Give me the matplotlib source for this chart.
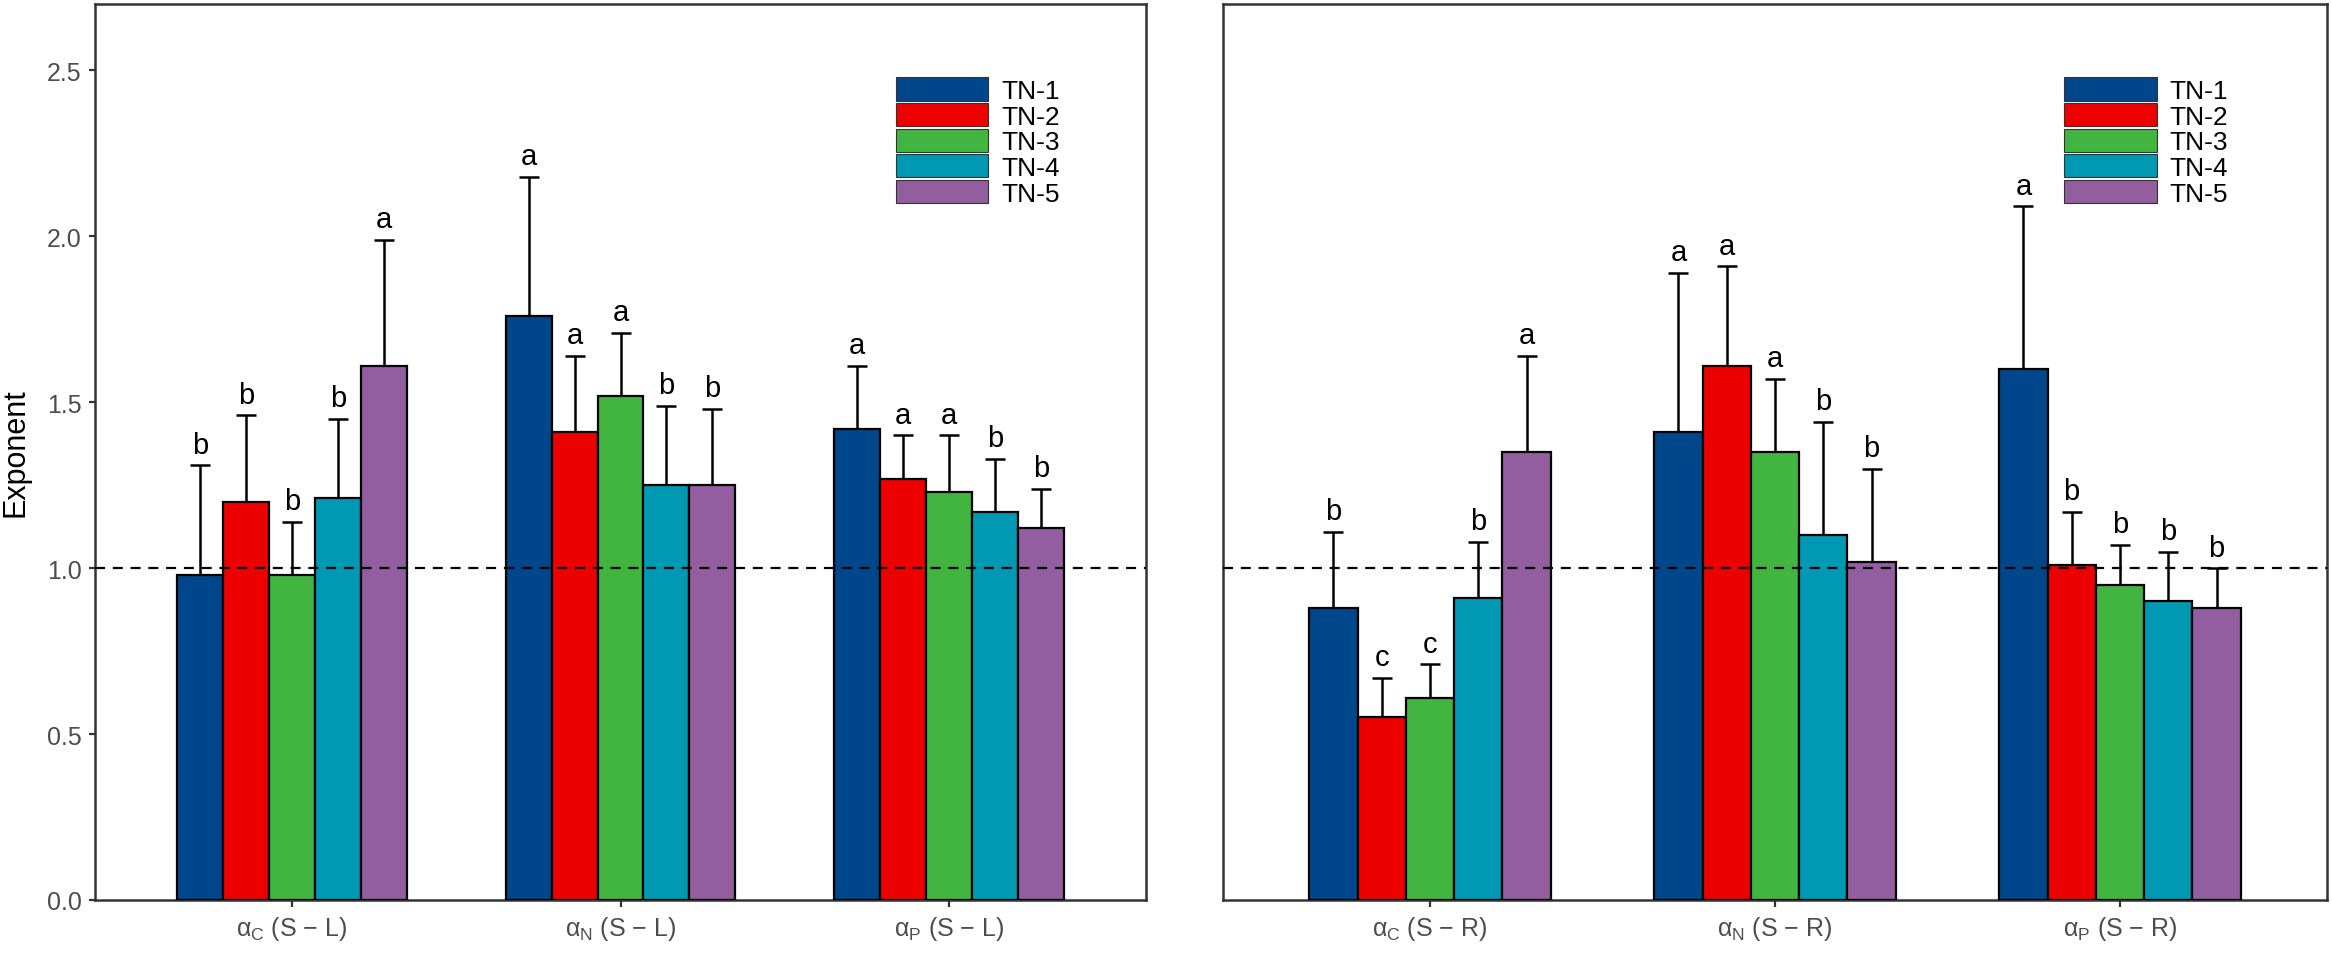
import numpy as np
import matplotlib
matplotlib.use('Agg')
import matplotlib.pyplot as plt
from matplotlib.patches import Patch

plt.rcParams['font.family'] = ['Liberation Sans', 'DejaVu Sans']
plt.rcParams['mathtext.fontset'] = 'custom'
plt.rcParams['mathtext.rm'] = 'Liberation Sans'
plt.rcParams['mathtext.it'] = 'Liberation Sans:italic'

treatments = ['TN-1', 'TN-2', 'TN-3', 'TN-4', 'TN-5']
colors = ['#00468B', '#ED0000', '#42B540', '#0099B4', '#925E9F']

labels_left = ['α$_{\\mathrm{C}}$ (S − L)', 'α$_{\\mathrm{N}}$ (S − L)', 'α$_{\\mathrm{P}}$ (S − L)']
labels_right = ['α$_{\\mathrm{C}}$ (S − R)', 'α$_{\\mathrm{N}}$ (S − R)', 'α$_{\\mathrm{P}}$ (S − R)']

# rows = groups (alpha C, N, P), columns = TN-1..TN-5
mean_left = [[0.98, 1.20, 0.98, 1.21, 1.61],
             [1.76, 1.41, 1.52, 1.25, 1.25],
             [1.42, 1.27, 1.23, 1.17, 1.12]]
top_left = [[1.31, 1.46, 1.14, 1.45, 1.99],
            [2.18, 1.64, 1.71, 1.49, 1.48],
            [1.61, 1.40, 1.40, 1.33, 1.24]]
letters_left = [['b', 'b', 'b', 'b', 'a'],
                ['a', 'a', 'a', 'b', 'b'],
                ['a', 'a', 'a', 'b', 'b']]

mean_right = [[0.88, 0.55, 0.61, 0.91, 1.35],
              [1.41, 1.61, 1.35, 1.10, 1.02],
              [1.60, 1.01, 0.95, 0.90, 0.88]]
top_right = [[1.11, 0.67, 0.71, 1.08, 1.64],
             [1.89, 1.91, 1.57, 1.44, 1.30],
             [2.09, 1.17, 1.07, 1.05, 1.00]]
letters_right = [['b', 'c', 'c', 'b', 'a'],
                 ['a', 'a', 'a', 'b', 'b'],
                 ['a', 'b', 'b', 'b', 'b']]

W, H = 2332, 954
fig = plt.figure(figsize=(W / 100, H / 100), dpi=100)
ax1 = fig.add_axes([95 / W, 53 / H, 1051 / W, 896 / H])
ax2 = fig.add_axes([1223 / W, 53 / H, 1104 / W, 896 / H])

frame = '#333333'
bw = 0.14


def drawPanel(ax, means, tops, letters, xlabels, showY):
    means = np.array(means)
    tops = np.array(tops)
    x = np.arange(1, 4)
    for i in range(len(treatments)):
        xs = x + (i - 2) * bw
        ax.errorbar(xs, means[:, i], yerr=[np.zeros(3), tops[:, i] - means[:, i]],
                    fmt='none', ecolor='black', elinewidth=1.8, capsize=7,
                    capthick=1.8, zorder=2)
        ax.bar(xs, means[:, i], width=bw, color=colors[i], edgecolor='black',
               linewidth=1.6, zorder=3)
        for j in range(3):
            ax.text(xs[j], tops[j, i] + 0.02, letters[j][i], ha='center',
                    va='bottom', fontsize=21, color='black', zorder=4)
    ax.axhline(1.0, color='black', linestyle=(0, (4.5, 3.5)), linewidth=1.6, zorder=5)
    ax.set_xlim(0.4, 3.6)
    ax.set_ylim(0, 2.7)
    ax.set_xticks(x)
    ax.set_xticklabels(xlabels, fontsize=18, color='#4D4D4D')
    ax.tick_params(axis='x', length=5, width=1.6, color=frame, pad=5)
    if showY:
        ax.set_yticks([0, 0.5, 1.0, 1.5, 2.0, 2.5])
        ax.set_yticklabels(['0.0', '0.5', '1.0', '1.5', '2.0', '2.5'],
                           fontsize=18, color='#4D4D4D')
        ax.tick_params(axis='y', length=4.5, width=1.6, color=frame, pad=5)
        ax.set_ylabel('Exponent', fontsize=22, labelpad=12)
    else:
        ax.set_yticks([])
    for s in ax.spines.values():
        s.set_color(frame)
        s.set_linewidth(1.8)
    handles = [Patch(facecolor=c, edgecolor='#333333', linewidth=0.8) for c in colors]
    ax.legend(handles, treatments, loc='upper left', bbox_to_anchor=(0.762, 0.918),
              frameon=False, fontsize=19, handlelength=3.5, handleheight=0.97,
              labelspacing=0, handletextpad=0.5, borderpad=0, borderaxespad=0)


drawPanel(ax1, mean_left, top_left, letters_left, labels_left, True)
drawPanel(ax2, mean_right, top_right, letters_right, labels_right, False)

fig.savefig('out.png', dpi=100)
